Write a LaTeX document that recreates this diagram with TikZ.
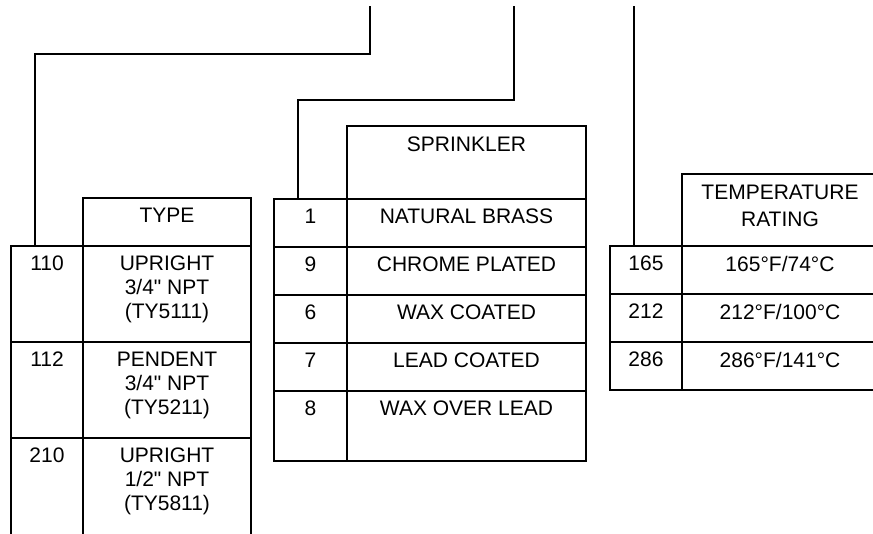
\documentclass[tikz,border=0pt]{standalone}
\usepackage{fontspec}
\setmainfont{Liberation Sans}
\usetikzlibrary{positioning}
\tikzset{
  cell/.style={draw,line width=2.8pt,inner sep=0pt,outer sep=0pt},
  txt/.style={font=\fontsize{21}{24}\selectfont,align=center,inner sep=0pt},
  wire/.style={line width=2.8pt}
}

\begin{document}
\begin{tikzpicture}[x=1pt,y=-1pt]
\useasboundingbox (0,0) rectangle (873,533);
% tableau TYPE
\node[cell,minimum width=168,minimum height=48] (htype) at (167,222) {};
\node[cell,minimum width=72,minimum height=96] (n110) at (47,294) {};
\node[cell,minimum width=168,minimum height=96] (d110) at (167,294) {};
\node[cell,minimum width=72,minimum height=96] (n112) at (47,390) {};
\node[cell,minimum width=168,minimum height=96] (d112) at (167,390) {};
\node[cell,minimum width=72,minimum height=120] (n210) at (47,498) {};
\node[cell,minimum width=168,minimum height=120] (d210) at (167,498) {};
\node[txt,below=10pt of htype.north] (ttype) {TYPE};
\node[txt,below=10pt of n110.north] (t110) {110};
\node[txt,below=10pt of d110.north] (u110) {UPRIGHT\\3/4\textquotedbl{} NPT\\(TY5111)};
\node[txt,below=10pt of n112.north] (t112) {112};
\node[txt,below=10pt of d112.north] (u112) {PENDENT\\3/4\textquotedbl{} NPT\\(TY5211)};
\node[txt,below=10pt of n210.north] (t210) {210};
\node[txt,below=10pt of d210.north] (u210) {UPRIGHT\\1/2\textquotedbl{} NPT\\(TY5811)};
% tableau SPRINKLER
\node[cell,minimum width=239,minimum height=73] (hspr) at (466.5,162.5) {};
\node[cell,minimum width=73,minimum height=48] (n1) at (310.5,223) {};
\node[cell,minimum width=239,minimum height=48] (d1) at (466.5,223) {};
\node[cell,minimum width=73,minimum height=48] (n9) at (310.5,271) {};
\node[cell,minimum width=239,minimum height=48] (d9) at (466.5,271) {};
\node[cell,minimum width=73,minimum height=48] (n6) at (310.5,319) {};
\node[cell,minimum width=239,minimum height=48] (d6) at (466.5,319) {};
\node[cell,minimum width=73,minimum height=48] (n7) at (310.5,367) {};
\node[cell,minimum width=239,minimum height=48] (d7) at (466.5,367) {};
\node[cell,minimum width=73,minimum height=70] (n8) at (310.5,426) {};
\node[cell,minimum width=239,minimum height=70] (d8) at (466.5,426) {};
\node[txt,below=11pt of hspr.north] (tspr) {SPRINKLER};
\node[txt,below=10pt of n1.north] (t1) {1};
\node[txt,below=10pt of d1.north] (u1) {NATURAL BRASS};
\node[txt,below=10pt of n9.north] (t9) {9};
\node[txt,below=10pt of d9.north] (u9) {CHROME PLATED};
\node[txt,below=10pt of n6.north] (t6) {6};
\node[txt,below=10pt of d6.north] (u6) {WAX COATED};
\node[txt,below=10pt of n7.north] (t7) {7};
\node[txt,below=10pt of d7.north] (u7) {LEAD COATED};
\node[txt,below=10pt of n8.north] (t8) {8};
\node[txt,below=10pt of d8.north] (u8) {WAX OVER LEAD};
% tableau TEMPERATURE
\node[cell,minimum width=216,minimum height=72] (htemp) at (790,210) {};
\node[cell,minimum width=72,minimum height=48] (n165) at (646,270) {};
\node[cell,minimum width=216,minimum height=48] (d165) at (790,270) {};
\node[cell,minimum width=72,minimum height=48] (n212) at (646,318) {};
\node[cell,minimum width=216,minimum height=48] (d212) at (790,318) {};
\node[cell,minimum width=72,minimum height=48] (n286) at (646,366) {};
\node[cell,minimum width=216,minimum height=48] (d286) at (790,366) {};
\node[txt,below=11pt of htemp.north,xshift=-10pt] (ttemp) {TEMPERATURE\\[2.5pt]RATING};
\node[txt,below=10pt of n165.north] (t165) {165};
\node[txt,below=10pt of d165.north,xshift=-10pt] (u165) {165°F/74°C};
\node[txt,below=10pt of n212.north] (t212) {212};
\node[txt,below=10pt of d212.north,xshift=-10pt] (u212) {212°F/100°C};
\node[txt,below=10pt of n286.north] (t286) {286};
\node[txt,below=10pt of d286.north,xshift=-10pt] (u286) {286°F/141°C};
% liaisons
\coordinate (a1) at (370,6);
\coordinate (k1) at (35,54);
\coordinate (a2) at (514,6);
\coordinate (k2) at (298,100);
\coordinate (a3) at (634,6);
\draw[wire] (a1) |- (k1) -- (k1 |- n110.north);
\draw[wire] (a2) |- (k2) -- (k2 |- n1.north);
\draw[wire] (a3) -- (a3 |- n165.north);
\end{tikzpicture}
\end{document}
